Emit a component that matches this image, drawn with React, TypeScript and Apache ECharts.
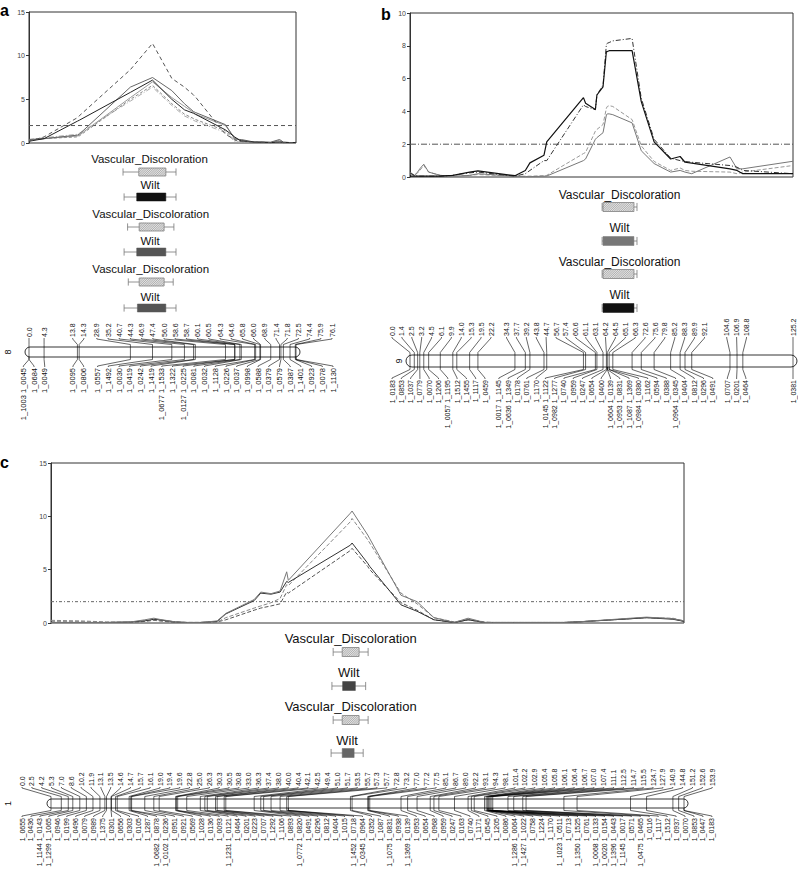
import React, { useEffect, useRef } from "react";
import * as echarts from "echarts";

const FONT = '"Liberation Sans", Arial, Helvetica, sans-serif';

/* ================= Panel a : linkage group 8 ================= */
const chr8Positions = [0.0, 4.3, 13.8, 14.3, 28.9, 35.2, 40.7, 44.3, 46.9, 47.4, 56.0, 58.6, 58.7, 60.1, 60.5, 64.3, 64.6, 65.8, 66.0, 68.9, 71.4, 71.8, 72.5, 74.4, 75.9, 76.1];
const chr8Markers = ["1_1003 1_0045", "1_0684", "1_0049", "1_0095", "1_0806", "1_0557", "1_1492", "1_0030", "1_0419", "1_0242", "1_1419", "1_0677 1_1533", "1_1322", "1_0127 1_0225", "1_0081", "1_0032", "1_1128", "1_0226", "1_0037", "1_0998", "1_0588", "1_0379", "1_0579", "1_0387", "1_1401", "1_0923", "1_0078", "1_1130"];
const chr8MarkerPositions = [0.0, 0.0, 4.3, 13.8, 14.3, 28.9, 35.2, 40.7, 44.3, 46.9, 47.4, 56.0, 58.6, 58.7, 60.1, 60.5, 64.3, 64.6, 65.8, 66.0, 68.9, 71.4, 71.8, 72.5, 74.4, 75.9, 76.1, 76.1];

const lodA1 = [0.2, 0.7, 2.9, 3.1, 8.4, 11.4, 7.4, 6.4, 5.5, 5.3, 1.0, 0.4, 0.4, 0.2, 0.2, 0.1, 0.1, 0.1, 0.1, 0.05, 0.1, 0.1, 0.05, 0.05, 0.05, 0.1];
const lodA2 = [0.2, 0.5, 2.5, 2.6, 5.8, 7.2, 5.0, 3.8, 3.4, 3.3, 1.5, 0.7, 0.7, 0.3, 0.25, 0.1, 0.1, 0.1, 0.1, 0.05, 0.1, 0.1, 0.05, 0.05, 0.05, 0.1];
const lodA3 = [0.4, 0.5, 0.9, 1.0, 6.4, 7.5, 6.0, 4.5, 3.6, 3.5, 2.1, 0.5, 0.5, 0.4, 0.4, 0.1, 0.1, 0.1, 0.1, 0.1, 0.4, 0.3, 0.1, 0.05, 0.05, 0.1];
const lodA4 = [0.3, 0.5, 0.8, 0.9, 5.2, 7.0, 5.2, 4.2, 3.5, 3.3, 2.0, 0.6, 0.6, 0.3, 0.3, 0.1, 0.1, 0.1, 0.1, 0.05, 0.3, 0.2, 0.1, 0.05, 0.05, 0.05];
const lodA5 = [0.3, 0.5, 0.7, 0.8, 5.0, 6.6, 4.5, 3.3, 2.8, 2.7, 1.4, 0.3, 0.3, 0.2, 0.2, 0.05, 0.05, 0.05, 0.05, 0.05, 0.2, 0.1, 0.05, 0.05, 0.05, 0.05];
const lodA6 = [0.4, 0.6, 1.0, 1.1, 4.8, 6.4, 4.3, 3.1, 2.6, 2.5, 1.2, 0.2, 0.2, 0.1, 0.1, 0.05, 0.05, 0.05, 0.05, 0.05, 0.15, 0.1, 0.05, 0.05, 0.05, 0.05];

const qtlA_traits = ["Vascular_Discoloration", "Wilt", "Vascular_Discoloration", "Wilt", "Vascular_Discoloration", "Wilt"];
const qtlA_whiskerLo = [26.8, 27.1, 28.1, 27.1, 28.3, 27.1];
const qtlA_boxLo = [31.3, 30.7, 31.4, 30.7, 31.4, 30.9];
const qtlA_boxHi = [39.0, 39.0, 38.5, 39.0, 38.5, 39.0];
const qtlA_whiskerHi = [41.9, 41.9, 41.3, 41.9, 41.1, 41.9];

/* ================= Panel b : linkage group 9 ================= */
const chr9Positions = [0.0, 1.4, 2.5, 3.2, 4.5, 6.1, 9.9, 14.0, 15.3, 19.5, 22.2, 34.3, 37.7, 39.2, 43.8, 44.7, 56.7, 57.4, 60.6, 61.1, 63.1, 64.2, 64.5, 65.1, 66.3, 72.6, 75.6, 79.8, 85.2, 88.3, 89.9, 92.1, 104.6, 106.9, 108.8, 125.2];
const chr9Markers = ["1_0183", "1_0853", "1_1037", "1_0779", "1_0070", "1_1206", "1_0057 1_1195", "1_1512", "1_1455", "1_1117", "1_0459", "1_0017 1_1145", "1_0636 1_1349", "1_0178", "1_0761", "1_1170", "1_0145 1_1122", "1_0982 1_1277", "1_0740", "1_0959", "1_0247", "1_0654", "1_0400", "1_0604 1_0139", "1_0953 1_0831", "1_1087 1_1369", "1_0984 1_0380", "1_1162", "1_0594", "1_0388", "1_0964 1_0345", "1_0404", "1_0812", "1_0296", "1_0491", "1_0707", "1_0201", "1_0464", "1_0381"];
const chr9MarkerPositions = [0.0, 1.4, 2.5, 3.2, 4.5, 6.1, 9.9, 14.0, 15.3, 19.5, 22.2, 34.3, 37.7, 39.2, 43.8, 44.7, 56.7, 57.4, 60.6, 61.1, 63.1, 64.2, 64.5, 64.5, 64.5, 65.1, 65.1, 66.3, 72.6, 75.6, 79.8, 85.2, 88.3, 89.9, 92.1, 104.6, 106.9, 108.8, 125.2];

const lodB1 = [0.05, 0.05, 0.05, 0.05, 0.05, 0.05, 0.05, 0.1, 0.15, 0.3, 0.37, 0.08, 0.4, 0.86, 1.33, 2.14, 4.84, 4.5, 4.12, 5.0, 5.5, 7.65, 7.65, 7.7, 7.7, 7.7, 4.6, 2.14, 1.1, 1.25, 0.9, 0.85, 0.5, 0.4, 0.2, 0.2];
const lodB2 = [0.25, 0.1, 0.05, 0.05, 0.05, 0.05, 0.05, 0.1, 0.15, 0.25, 0.3, 0.05, 0.2, 0.4, 1.0, 1.0, 4.4, 4.3, 4.1, 5.0, 5.6, 8.1, 8.15, 8.2, 8.3, 8.45, 4.8, 2.3, 1.15, 1.0, 0.95, 0.9, 0.7, 0.6, 0.4, 0.2];
const lodB3 = [0.3, 0.1, 0.3, 0.5, 0.78, 0.3, 0.1, 0.05, 0.05, 0.1, 0.2, 0.05, 0.02, 0.02, 0.05, 0.06, 1.0, 1.1, 2.3, 2.4, 2.7, 3.78, 3.85, 3.85, 3.8, 3.3, 1.6, 0.82, 0.3, 0.4, 0.3, 0.2, 1.22, 0.5, 0.5, 0.96];
const lodB4 = [0.2, 0.1, 0.25, 0.4, 0.7, 0.3, 0.1, 0.05, 0.05, 0.1, 0.15, 0.05, 0.05, 0.05, 0.08, 0.1, 1.43, 1.5, 2.8, 2.9, 3.2, 4.2, 4.3, 4.35, 4.3, 3.5, 1.9, 0.95, 0.4, 0.55, 0.4, 0.35, 0.3, 0.2, 0.3, 0.7];

const qtlB_traits = ["Vascular_Discoloration", "Wilt", "Vascular_Discoloration", "Wilt"];
const qtlB_whiskerLo = [62.8, 62.8, 62.8, 62.8];
const qtlB_boxLo = [63.1, 63.1, 63.1, 63.1];
const qtlB_boxHi = [73.2, 73.2, 73.2, 73.2];
const qtlB_whiskerHi = [74.2, 74.2, 74.2, 74.2];

/* ================= Panel c : linkage group 1 ================= */
const chr1Positions = [0.0, 2.5, 4.2, 5.3, 7.0, 8.6, 10.2, 11.9, 13.1, 13.5, 14.6, 14.7, 15.7, 16.1, 19.0, 19.4, 19.6, 22.8, 25.0, 26.3, 30.3, 30.5, 30.8, 33.0, 36.3, 37.4, 38.0, 40.0, 40.4, 42.1, 42.5, 49.4, 51.0, 51.7, 53.5, 55.7, 57.3, 57.7, 72.8, 73.2, 77.0, 77.2, 77.5, 85.1, 86.7, 89.0, 92.2, 93.1, 94.3, 98.1, 101.4, 102.2, 102.9, 105.4, 105.8, 106.1, 106.4, 106.7, 107.0, 107.4, 111.1, 112.5, 114.7, 115.5, 124.7, 127.9, 140.9, 144.8, 151.2, 152.6, 153.9];
const chr1Markers = ["1_0655", "1_0436", "1_1144 1_0143", "1_1299 1_1065", "1_0946", "1_0199", "1_0496", "1_0079", "1_0989", "1_1375", "1_0301", "1_0656", "1_0303", "1_0105", "1_1287", "1_0682 1_0878", "1_0102 1_0236", "1_0951", "1_0921", "1_0569", "1_1028", "1_0136", "1_0093", "1_1231 1_0121", "1_0464", "1_0201", "1_0223", "1_0707", "1_1292", "1_1106", "1_0893", "1_0772 1_0820", "1_0491", "1_0296", "1_0812", "1_0404", "1_1015", "1_1452 1_0718", "1_0345 1_0964", "1_0352", "1_1087", "1_1075 1_0831", "1_0938", "1_1369 1_0139", "1_0953", "1_0654", "1_0968", "1_0959", "1_0247", "1_0163", "1_0740", "1_1171", "1_0545", "1_1205", "1_0086", "1_1286 1_0064", "1_1427 1_1022", "1_0758", "1_1224", "1_1170", "1_1023 1_0511", "1_0713", "1_1350 1_1525", "1_0761", "1_0068 1_0133", "1_0020 1_0154", "1_1396 1_0443", "1_1145 1_0017", "1_0571", "1_0475 1_0465", "1_0116", "1_1117", "1_1512", "1_0937", "1_0070", "1_0853", "1_0447", "1_0183"];
const chr1MarkerPositions = [0.0, 2.5, 4.2, 5.3, 7.0, 8.6, 10.2, 11.9, 13.1, 13.5, 14.6, 14.7, 15.7, 16.1, 19.0, 19.4, 19.6, 22.8, 25.0, 26.3, 30.3, 30.5, 30.8, 33.0, 36.3, 37.4, 38.0, 40.0, 40.4, 42.1, 42.5, 49.4, 51.0, 51.7, 53.5, 55.7, 57.3, 57.7, 57.7, 72.8, 73.2, 77.0, 77.2, 77.5, 85.1, 86.7, 89.0, 92.2, 93.1, 94.3, 98.1, 101.4, 102.2, 102.9, 105.4, 105.8, 106.1, 106.1, 106.4, 106.4, 106.7, 106.7, 107.0, 107.0, 107.4, 107.4, 111.1, 112.5, 114.7, 115.5, 124.7, 127.9, 140.9, 144.8, 151.2, 152.6, 153.9, 153.9];

const lodC_positions = [0, 7.0, 13.5, 19.4, 22.8, 25.0, 26.3, 30.3, 33.0, 36.3, 38.0, 40.4, 42.5, 49.4, 51.0, 53.5, 55.7, 57.3, 57.7, 72.8, 73.2, 77.0, 77.5, 85.1, 89.0, 93.1, 98.1, 101.4, 105.4, 107.4, 112.5, 115.5, 124.7, 127.9, 140.9, 144.8, 151.2, 153.9];
const lodC1 = [0.05, 0.05, 0.05, 0.1, 0.3, 0.45, 0.35, 0.1, 0.05, 0.05, 0.1, 0.2, 0.9, 2.2, 2.9, 2.75, 3.0, 4.8, 4.0, 10.3, 10.5, 8.25, 7.9, 2.6, 2.0, 0.5, 0.05, 0.45, 0.05, 0.05, 0.05, 0.05, 0.05, 0.1, 0.45, 0.55, 0.4, 0.2];
const lodC2 = [0.25, 0.2, 0.1, 0.05, 0.2, 0.3, 0.25, 0.1, 0.05, 0.05, 0.05, 0.1, 0.5, 1.4, 1.6, 1.9, 2.3, 3.6, 3.5, 9.5, 9.8, 7.8, 7.5, 2.8, 1.8, 0.5, 0.1, 0.35, 0.1, 0.05, 0.05, 0.05, 0.05, 0.1, 0.4, 0.5, 0.45, 0.2];
const lodC3 = [0.05, 0.05, 0.05, 0.1, 0.2, 0.35, 0.3, 0.1, 0.05, 0.05, 0.1, 0.15, 0.85, 2.1, 2.8, 2.7, 2.9, 3.9, 3.8, 7.3, 7.5, 5.6, 5.3, 1.7, 1.1, 0.3, 0.05, 0.3, 0.05, 0.05, 0.05, 0.05, 0.05, 0.1, 0.4, 0.5, 0.35, 0.15];
const lodC4 = [0.1, 0.1, 0.05, 0.05, 0.15, 0.25, 0.2, 0.05, 0.05, 0.05, 0.05, 0.1, 0.3, 1.2, 1.4, 1.6, 1.8, 2.9, 2.8, 6.8, 7.0, 5.3, 5.0, 1.9, 1.2, 0.3, 0.05, 0.3, 0.05, 0.05, 0.05, 0.05, 0.05, 0.1, 0.4, 0.5, 0.4, 0.15];

const qtlC_traits = ["Vascular_Discoloration", "Wilt", "Vascular_Discoloration", "Wilt"];
const qtlC_whiskerLo = [68.6, 68.3, 68.6, 68.1];
const qtlC_boxLo = [70.8, 70.9, 70.8, 70.8];
const qtlC_boxHi = [74.9, 74.0, 74.9, 73.7];
const qtlC_whiskerHi = [77.1, 76.5, 77.1, 75.9];

const thresholdLOD = 2;

/* ================= helpers ================= */
function spread(xs: number[], gap: number, lo: number, hi: number): number[] {
  const order = xs.map((x, i) => i).sort((a, b) => xs[a] - xs[b]);
  const v = order.map((i) => xs[i]);
  type Block = { idx: number[]; start: number };
  const blocks: Block[] = [];
  const startOf = (idx: number[]) => {
    let s = 0;
    idx.forEach((j, k) => (s += v[j] - k * gap));
    return s / idx.length;
  };
  v.forEach((x, j) => {
    blocks.push({ idx: [j], start: x });
    while (blocks.length > 1) {
      const last = blocks[blocks.length - 1];
      const prev = blocks[blocks.length - 2];
      if (prev.start + prev.idx.length * gap > last.start) {
        const idx = prev.idx.concat(last.idx);
        blocks.splice(blocks.length - 2, 2, { idx, start: startOf(idx) });
      } else break;
    }
  });
  const pos: number[] = new Array(v.length);
  blocks.forEach((b) => b.idx.forEach((j, k) => (pos[j] = b.start + k * gap)));
  const n = pos.length;
  pos[n - 1] = Math.min(pos[n - 1], hi);
  for (let i = n - 2; i >= 0; i--) pos[i] = Math.min(pos[i], pos[i + 1] - gap);
  pos[0] = Math.max(pos[0], lo);
  for (let i = 1; i < n; i++) pos[i] = Math.max(pos[i], pos[i - 1] + gap);
  const out: number[] = new Array(n);
  order.forEach((i, j) => (out[i] = pos[j]));
  return out;
}

function hatchSegs(x: number, y: number, w: number, h: number, step: number) {
  const segs: number[][] = [];
  for (let t = -h; t < w; t += step) {
    const s0 = Math.max(0, -t);
    const s1 = Math.min(h, w - t);
    if (s1 > s0) segs.push([x + t + s0, y + h - s0, x + t + s1, y + h - s1]);
  }
  return segs;
}

type MapCfg = {
  positions: number[];
  markers: string[];
  markerPos: number[];
  chromName: string;
  chromNameX: number;
  topTextBottom: number;
  chromTop: number;
  chromBottom: number;
  bottomTextTop: number;
  topGap: number;
  topLo: number;
  topHi: number;
  botGap: number;
  botLo: number;
  botHi: number;
  topFont: number;
  botFont: number;
  traits: string[];
  wLo: number[];
  bLo: number[];
  bHi: number[];
  wHi: number[];
  fills: string[];
  textY: number[];
  barY: number[];
  traitFont: number;
  barH: number;
};

function renderMap(api: any, cfg: MapCfg) {
  const X = (v: number) => api.coord([v, 0])[0];
  const ch: any[] = [];
  const line = (x1: number, y1: number, x2: number, y2: number, stroke = "#000", w = 0.6) =>
    ch.push({ type: "line", shape: { x1, y1, x2, y2 }, style: { stroke, lineWidth: w } });

  // QTL intervals
  cfg.traits.forEach((t, i) => {
    const wl = X(cfg.wLo[i]);
    const wh = X(cfg.wHi[i]);
    const bl = X(cfg.bLo[i]);
    const bh = X(cfg.bHi[i]);
    const cy = cfg.barY[i];
    const h = cfg.barH;
    ch.push({
      type: "text",
      x: (wl + wh) / 2,
      y: cfg.textY[i],
      style: { text: t, fontSize: cfg.traitFont, fontFamily: FONT, fill: "#111", align: "center", verticalAlign: "middle" },
    });
    line(wl, cy, wh, cy, "#777", 0.8);
    line(wl, cy - h * 0.45, wl, cy + h * 0.45, "#777", 0.8);
    line(wh, cy - h * 0.45, wh, cy + h * 0.45, "#777", 0.8);
    const f = cfg.fills[i];
    if (f === "hatch") {
      ch.push({ type: "rect", shape: { x: bl, y: cy - h / 2, width: bh - bl, height: h }, style: { fill: "#e2e2e2", stroke: "none" } });
      hatchSegs(bl, cy - h / 2, bh - bl, h, 2.2).forEach((s) => line(s[0], s[1], s[2], s[3], "#8a8a8a", 0.6));
      ch.push({ type: "rect", shape: { x: bl, y: cy - h / 2, width: bh - bl, height: h }, style: { fill: "none", stroke: "#808080", lineWidth: 0.8 } });
    } else {
      ch.push({ type: "rect", shape: { x: bl, y: cy - h / 2, width: bh - bl, height: h }, style: { fill: f, stroke: f, lineWidth: 0.5 } });
    }
  });

  // chromosome body
  const x0 = X(cfg.positions[0]);
  const x1 = X(cfg.positions[cfg.positions.length - 1]);
  const ct = cfg.chromTop;
  const cb = cfg.chromBottom;
  const hh = cb - ct;
  ch.push({
    type: "rect",
    shape: { x: x0 - 4, y: ct, width: x1 - x0 + 8, height: hh, r: hh / 2 },
    style: { fill: "#fff", stroke: "#000", lineWidth: 0.8 },
  });
  cfg.positions.forEach((p) => line(X(p), ct, X(p), cb, "#000", 0.6));

  // top labels (positions in cM)
  const tx = cfg.positions.map(X);
  const tl = spread(tx, cfg.topGap, cfg.topLo, cfg.topHi);
  cfg.positions.forEach((p, i) => {
    const tb = cfg.topTextBottom;
    ch.push({
      type: "polyline",
      shape: { points: [[tl[i], tb + 1], [tl[i], tb + 2], [tx[i], ct - 2.5], [tx[i], ct]] },
      style: { stroke: "#000", lineWidth: 0.6, fill: "none" },
    });
    ch.push({
      type: "text",
      x: tl[i],
      y: tb,
      rotation: Math.PI / 2,
      style: { text: p.toFixed(1), fontSize: cfg.topFont, fontFamily: FONT, fill: "#111", align: "left", verticalAlign: "middle" },
    });
  });

  // bottom labels (marker names)
  const bx = cfg.markerPos.map(X);
  const bl2 = spread(bx, cfg.botGap, cfg.botLo, cfg.botHi);
  cfg.markers.forEach((m, i) => {
    const bt = cfg.bottomTextTop;
    ch.push({
      type: "polyline",
      shape: { points: [[bx[i], cb], [bx[i], cb + 2.5], [bl2[i], bt - 2], [bl2[i], bt - 1]] },
      style: { stroke: "#000", lineWidth: 0.6, fill: "none" },
    });
    ch.push({
      type: "text",
      x: bl2[i],
      y: bt,
      rotation: Math.PI / 2,
      style: { text: m, fontSize: cfg.botFont, fontFamily: FONT, fill: "#111", align: "right", verticalAlign: "middle" },
    });
  });

  // chromosome name
  ch.push({
    type: "text",
    x: cfg.chromNameX,
    y: (ct + cb) / 2,
    rotation: Math.PI / 2,
    style: { text: cfg.chromName, fontSize: 9, fontFamily: FONT, fill: "#111", align: "center", verticalAlign: "middle" },
  });

  return { type: "group", children: ch };
}

const mapA: MapCfg = {
  positions: chr8Positions, markers: chr8Markers, markerPos: chr8MarkerPositions,
  chromName: "8", chromNameX: 8,
  topTextBottom: 337, chromTop: 347, chromBottom: 357, bottomTextTop: 368,
  topGap: 11.2, topLo: 24, topHi: 332, botGap: 10.7, botLo: 22, botHi: 333,
  topFont: 7, botFont: 7.5,
  traits: qtlA_traits, wLo: qtlA_whiskerLo, bLo: qtlA_boxLo, bHi: qtlA_boxHi, wHi: qtlA_whiskerHi,
  fills: ["hatch", "#111", "hatch", "#555", "hatch", "#555"],
  textY: [159, 185, 214, 241, 269, 297], barY: [172, 197, 227, 252, 282, 308],
  traitFont: 11.5, barH: 8,
};

const mapB: MapCfg = {
  positions: chr9Positions, markers: chr9Markers, markerPos: chr9MarkerPositions,
  chromName: "9", chromNameX: 399,
  topTextBottom: 336, chromTop: 355, chromBottom: 367, bottomTextTop: 380,
  topGap: 9.9, topLo: 392, topHi: 795, botGap: 9.3, botLo: 392, botHi: 795,
  topFont: 7, botFont: 7,
  traits: qtlB_traits, wLo: qtlB_whiskerLo, bLo: qtlB_boxLo, bHi: qtlB_boxHi, wHi: qtlB_whiskerHi,
  fills: ["hatch", "#777", "hatch", "#111"],
  textY: [195, 228, 262, 295], barY: [207, 241, 274, 308],
  traitFont: 12, barH: 9,
};

const mapC: MapCfg = {
  positions: chr1Positions, markers: chr1Markers, markerPos: chr1MarkerPositions,
  chromName: "1", chromNameX: 8,
  topTextBottom: 786, chromTop: 799, chromBottom: 808, bottomTextTop: 818,
  topGap: 9.86, topLo: 22, topHi: 714, botGap: 8.96, botLo: 22, botHi: 714,
  topFont: 7, botFont: 7,
  traits: qtlC_traits, wLo: qtlC_whiskerLo, bLo: qtlC_boxLo, bHi: qtlC_boxHi, wHi: qtlC_whiskerHi,
  fills: ["hatch", "#444", "hatch", "#666"],
  textY: [638, 672, 706, 740], barY: [652, 686, 720, 753],
  traitFont: 13, barH: 9,
};

function buildOption() {
  const grids = [
    { left: 29, top: 12, width: 267, height: 131 },
    { left: 410, top: 13, width: 383, height: 164 },
    { left: 51, top: 463, width: 633, height: 160 },
  ].map((g) => ({ ...g, show: true, borderColor: "#333", borderWidth: 1, backgroundColor: "rgba(0,0,0,0)", containLabel: false }));

  const maxX = [chr8Positions[chr8Positions.length - 1], chr9Positions[chr9Positions.length - 1], chr1Positions[chr1Positions.length - 1]];
  const yMax = [15, 10, 15];
  const yStep = [5, 2, 5];

  const xAxis = maxX.map((m, i) => ({
    type: "value", gridIndex: i, min: 0, max: m,
    axisLine: { show: false }, axisTick: { show: false }, axisLabel: { show: false }, splitLine: { show: false },
  }));
  const yAxis = yMax.map((m, i) => ({
    type: "value", gridIndex: i, min: 0, max: m, interval: yStep[i],
    axisLine: { show: true, lineStyle: { color: "#333", width: 1 } },
    axisTick: { show: true, length: 3, lineStyle: { color: "#333" } },
    axisLabel: { fontSize: 7, color: "#444", margin: 4, fontFamily: FONT },
    splitLine: { show: false },
  }));

  const lodLine = (xs: number[], ys: number[], ax: number, color: string, type: any, width = 1) => ({
    type: "line", xAxisIndex: ax, yAxisIndex: ax,
    data: xs.map((x, i) => [x, ys[i]]),
    showSymbol: false, symbol: "none", silent: true, z: 3,
    lineStyle: { color, width, type },
  });
  const thr = (ax: number, color: string, type: any) => ({
    type: "line", xAxisIndex: ax, yAxisIndex: ax,
    data: [[0, thresholdLOD], [maxX[ax], thresholdLOD]],
    showSymbol: false, symbol: "none", silent: true, z: 2,
    lineStyle: { color, width: 1, type },
  });
  const mapSeries = (ax: number, cfg: MapCfg) => ({
    type: "custom", xAxisIndex: ax, yAxisIndex: ax, data: [[0, 0]], clip: false, silent: true, z: 5,
    renderItem: (_p: any, api: any) => renderMap(api, cfg),
  });

  const series = [
    thr(0, "#555", [4, 3]),
    lodLine(chr8Positions, lodA6, 0, "#aaa", [5, 2, 1, 2]),
    lodLine(chr8Positions, lodA5, 0, "#888", [3, 2]),
    lodLine(chr8Positions, lodA4, 0, "#999", "solid"),
    lodLine(chr8Positions, lodA3, 0, "#666", "solid"),
    lodLine(chr8Positions, lodA2, 0, "#222", "solid"),
    lodLine(chr8Positions, lodA1, 0, "#555", [4, 3]),
    thr(1, "#555", [6, 2, 1, 2]),
    lodLine(chr9Positions, lodB4, 1, "#999", [4, 2]),
    lodLine(chr9Positions, lodB3, 1, "#777", "solid"),
    lodLine(chr9Positions, lodB2, 1, "#333", [5, 2, 1, 2]),
    lodLine(chr9Positions, lodB1, 1, "#111", "solid", 1.2),
    thr(2, "#666", [3, 2, 1, 2]),
    lodLine(lodC_positions, lodC4, 2, "#555", [4, 2]),
    lodLine(lodC_positions, lodC2, 2, "#888", [4, 2]),
    lodLine(lodC_positions, lodC3, 2, "#333", "solid"),
    lodLine(lodC_positions, lodC1, 2, "#777", "solid"),
    mapSeries(0, mapA),
    mapSeries(1, mapB),
    mapSeries(2, mapC),
  ];

  const letter = (t: string, x: number, y: number) => ({
    type: "text", x, y,
    style: { text: t, fontSize: 16, fontWeight: "bold", fontFamily: FONT, fill: "#000", align: "left", verticalAlign: "middle" },
  });

  return {
    animation: false,
    backgroundColor: "#fff",
    grid: grids,
    xAxis,
    yAxis,
    series,
    graphic: [letter("a", 0, 10), letter("b", 381, 14), letter("c", 0, 462)],
  };
}

export default function App() {
  const ref = useRef<HTMLDivElement>(null);
  useEffect(() => {
    if (!ref.current) return;
    const chart = echarts.init(ref.current, undefined, { renderer: "svg" });
    chart.setOption(buildOption() as any);
    return () => chart.dispose();
  }, []);
  return <div ref={ref} style={{ position: "fixed", left: 0, top: 0, width: 798, height: 878, background: "#fff" }} />;
}
